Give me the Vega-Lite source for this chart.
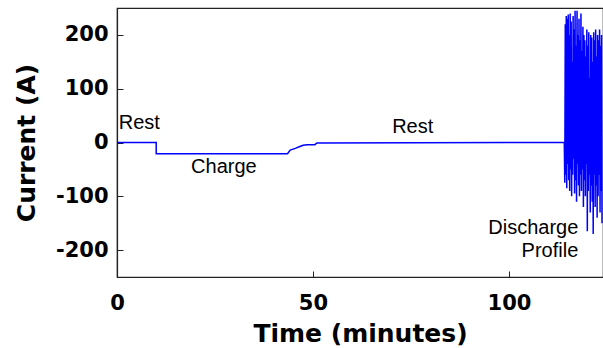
{
  "$schema": "https://vega.github.io/schema/vega-lite/v6.json",
  "width": 486,
  "height": 269,
  "autosize": "none",
  "padding": {"left": 117, "top": 8, "right": 0, "bottom": 71},
  "background": "white",
  "config": {
    "view": {"stroke": "#222", "strokeWidth": 1.2},
    "axis": {
      "grid": false,
      "domainColor": "#222",
      "domainWidth": 1.2,
      "tickColor": "#222",
      "tickSize": -6,
      "tickWidth": 1,
      "labelFlush": false,
      "labelFont": "DejaVu Sans",
      "labelFontWeight": "bold",
      "labelFontSize": 21,
      "labelColor": "#000",
      "labelExpr": "'' + datum.value",
      "titleFont": "DejaVu Sans",
      "titleFontWeight": "bold",
      "titleFontSize": 25,
      "titleColor": "#000"
    }
  },
  "datasets": {
    "current": [
      {"t": 0, "i": 0}, {"t": 10, "i": 0}, {"t": 10, "i": -21},
      {"t": 43.5, "i": -21}, {"t": 44.2, "i": -14}, {"t": 45.5, "i": -11},
      {"t": 46.5, "i": -8}, {"t": 47.5, "i": -5}, {"t": 48.5, "i": -4},
      {"t": 50.5, "i": -4}, {"t": 51, "i": -1}, {"t": 114, "i": 0},
      {"t": 114.125, "i": 0}, {"t": 114.25, "i": -75}, {"t": 114.375, "i": 220},
      {"t": 114.5, "i": -60}, {"t": 114.625, "i": 235}, {"t": 114.75, "i": -85},
      {"t": 114.875, "i": 230}, {"t": 115.0, "i": -40}, {"t": 115.125, "i": 238},
      {"t": 115.25, "i": -70}, {"t": 115.375, "i": 200}, {"t": 115.5, "i": -90},
      {"t": 115.625, "i": 240}, {"t": 115.75, "i": -50}, {"t": 115.875, "i": 225},
      {"t": 116.0, "i": -100}, {"t": 116.125, "i": 150}, {"t": 116.25, "i": -60},
      {"t": 116.375, "i": 235}, {"t": 116.5, "i": -30}, {"t": 116.625, "i": 210},
      {"t": 116.75, "i": -95}, {"t": 116.875, "i": 245}, {"t": 117.0, "i": -70},
      {"t": 117.125, "i": 180}, {"t": 117.25, "i": -110}, {"t": 117.375, "i": 245},
      {"t": 117.5, "i": -40}, {"t": 117.625, "i": 200}, {"t": 117.75, "i": -80},
      {"t": 117.875, "i": 230}, {"t": 118.0, "i": -100}, {"t": 118.125, "i": 190},
      {"t": 118.25, "i": -60}, {"t": 118.375, "i": 240}, {"t": 118.5, "i": -90},
      {"t": 118.625, "i": 170}, {"t": 118.75, "i": -50}, {"t": 118.875, "i": 215},
      {"t": 119.0, "i": -120}, {"t": 119.125, "i": 200}, {"t": 119.25, "i": -70},
      {"t": 119.375, "i": 190}, {"t": 119.5, "i": -100}, {"t": 119.625, "i": 160},
      {"t": 119.75, "i": -40}, {"t": 119.875, "i": 210}, {"t": 120.0, "i": -165},
      {"t": 120.125, "i": 180}, {"t": 120.25, "i": -90}, {"t": 120.375, "i": 205},
      {"t": 120.5, "i": -60}, {"t": 120.625, "i": 120}, {"t": 120.75, "i": -130},
      {"t": 120.875, "i": 200}, {"t": 121.0, "i": -80}, {"t": 121.125, "i": 195},
      {"t": 121.25, "i": -110}, {"t": 121.375, "i": 150}, {"t": 121.5, "i": -170},
      {"t": 121.625, "i": 205}, {"t": 121.75, "i": -60}, {"t": 121.875, "i": 190},
      {"t": 122.0, "i": -120}, {"t": 122.125, "i": 210}, {"t": 122.25, "i": -80},
      {"t": 122.375, "i": 160}, {"t": 122.5, "i": -140}, {"t": 122.625, "i": 200},
      {"t": 122.75, "i": -100}, {"t": 122.875, "i": 190}, {"t": 123.0, "i": -60},
      {"t": 123.125, "i": 210}, {"t": 123.25, "i": -130}, {"t": 123.375, "i": 180},
      {"t": 123.5, "i": -90}, {"t": 123.625, "i": 200}, {"t": 123.75, "i": -150}
    ],
    "notesLeft": [
      {"t": 0.45, "i": 26, "label": "Rest"},
      {"t": 18.9, "i": -56, "label": "Charge"},
      {"t": 70.2, "i": 18, "label": "Rest"}
    ],
    "notesRight": [
      {"t": 117.7, "i": -171, "label": "Discharge"},
      {"t": 117.7, "i": -212, "label": "Profile"}
    ]
  },
  "layer": [
    {
      "data": {"name": "current"},
      "mark": {"type": "line", "color": "#0000ff", "strokeWidth": 1.5, "clip": true},
      "encoding": {
        "x": {
          "field": "t", "type": "quantitative",
          "scale": {"domain": [0, 124], "nice": false, "zero": false},
          "axis": {"values": [0, 50, 100], "title": "Time (minutes)", "labelPadding": 21, "titlePadding": 8}
        },
        "y": {
          "field": "i", "type": "quantitative",
          "scale": {"domain": [-250, 250], "nice": false},
          "axis": {"values": [-200, -100, 0, 100, 200], "title": "Current (A)", "labelPadding": 15, "titlePadding": 16}
        },
        "order": {"value": null}
      }
    },
    {
      "data": {"name": "notesLeft"},
      "mark": {"type": "text", "align": "left", "baseline": "alphabetic", "font": "Liberation Sans", "fontSize": 20, "color": "#000"},
      "encoding": {
        "x": {"field": "t", "type": "quantitative"},
        "y": {"field": "i", "type": "quantitative"},
        "text": {"field": "label"}
      }
    },
    {
      "data": {"name": "notesRight"},
      "mark": {"type": "text", "align": "right", "baseline": "alphabetic", "font": "Liberation Sans", "fontSize": 20, "color": "#000"},
      "encoding": {
        "x": {"field": "t", "type": "quantitative"},
        "y": {"field": "i", "type": "quantitative"},
        "text": {"field": "label"}
      }
    }
  ]
}
